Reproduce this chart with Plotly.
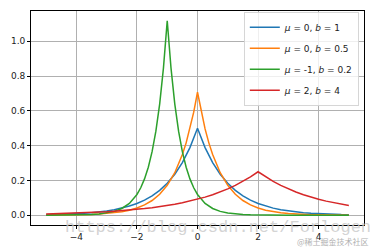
import plotly.graph_objects as go

# x grid shared by three series
x_vals = [-5.0, -4.75, -4.5, -4.25, -4.0, -3.75, -3.5, -3.25, -3.0, -2.75, -2.5, -2.25,
          -2.0, -1.75, -1.5, -1.25, -1.0, -0.75, -0.5, -0.25, 0.0, 0.25, 0.5, 0.75,
          1.0, 1.25, 1.5, 1.75, 2.0, 2.25, 2.5, 2.75, 3.0, 3.25, 3.5, 3.75, 4.0,
          4.25, 4.5, 4.75, 5.0]

y_mu0_b1 = [0.003, 0.004, 0.006, 0.007, 0.009, 0.012, 0.015, 0.019, 0.025, 0.032, 0.041, 0.053,
            0.068, 0.087, 0.112, 0.143, 0.184, 0.236, 0.303, 0.389, 0.500, 0.389, 0.303, 0.236,
            0.184, 0.143, 0.112, 0.087, 0.068, 0.053, 0.041, 0.032, 0.025, 0.019, 0.015, 0.012,
            0.009, 0.007, 0.006, 0.004, 0.003]

x_mu0_b05 = [-5.0, -4.75, -4.5, -4.25, -4.0, -3.75, -3.5, -3.25, -3.0, -2.75, -2.5, -2.25,
             -2.0, -1.75, -1.5, -1.25, -1.0, -0.75, -0.5, -0.375, -0.25, -0.125, 0.0,
             0.125, 0.25, 0.375, 0.5, 0.75, 1.0, 1.25, 1.5, 1.75, 2.0, 2.25, 2.5, 2.75,
             3.0, 3.25, 3.5, 3.75, 4.0, 4.25, 4.5, 4.75, 5.0]
y_mu0_b05 = [0.0006, 0.0009, 0.0012, 0.0017, 0.0025, 0.0035, 0.0050, 0.0071, 0.0102, 0.0145,
             0.0206, 0.0293, 0.0418, 0.0595, 0.0848, 0.1207, 0.1719, 0.2448, 0.3487, 0.4161,
             0.4965, 0.5925, 0.7071, 0.5925, 0.4965, 0.4161, 0.3487, 0.2448, 0.1719, 0.1207,
             0.0848, 0.0595, 0.0418, 0.0293, 0.0206, 0.0145, 0.0102, 0.0071, 0.0050, 0.0035,
             0.0025, 0.0017, 0.0012, 0.0009, 0.0006]

x_mum1_b02 = [-5.0, -4.75, -4.5, -4.25, -4.0, -3.75, -3.5, -3.25, -3.0, -2.75, -2.5, -2.25,
              -2.0, -1.875, -1.75, -1.625, -1.5, -1.375, -1.25, -1.125, -1.0, -0.875, -0.75,
              -0.625, -0.5, -0.375, -0.25, -0.125, 0.0, 0.25, 0.5, 0.75, 1.0, 1.25, 1.5,
              1.75, 2.0, 2.25, 2.5, 2.75, 3.0, 3.5, 4.0, 4.5, 5.0]
y_mum1_b02 = [0.0001, 0.0003, 0.0004, 0.0008, 0.0014, 0.0024, 0.0042, 0.0073, 0.0128, 0.0223,
              0.0391, 0.0683, 0.1195, 0.1580, 0.2090, 0.2764, 0.3655, 0.4833, 0.6390, 0.8455,
              1.1180, 0.8455, 0.6390, 0.4833, 0.3655, 0.2764, 0.2090, 0.1580, 0.1195, 0.0683,
              0.0391, 0.0223, 0.0128, 0.0073, 0.0042, 0.0024, 0.0014, 0.0008, 0.0004, 0.0003,
              0.0001, 0.0001, 0.0000, 0.0000, 0.0000]

y_mu2_b4 = [0.0075, 0.0086, 0.0097, 0.0110, 0.0124, 0.0141, 0.0160, 0.0181, 0.0205, 0.0233,
            0.0263, 0.0299, 0.0338, 0.0383, 0.0434, 0.0492, 0.0558, 0.0632, 0.0716, 0.0812,
            0.0920, 0.1042, 0.1181, 0.1338, 0.1516, 0.1718, 0.1947, 0.2206, 0.2500, 0.2206,
            0.1947, 0.1718, 0.1516, 0.1338, 0.1181, 0.1042, 0.0920, 0.0812, 0.0716, 0.0632,
            0.0558]

names = ["<i>μ</i> = 0, <i>b</i> = 1", "<i>μ</i> = 0, <i>b</i> = 0.5",
         "<i>μ</i> = -1, <i>b</i> = 0.2", "<i>μ</i> = 2, <i>b</i> = 4"]
colors = ["#1f77b4", "#ff7f0e", "#2ca02c", "#d62728"]

x_ticks = [-4, -2, 0, 2, 4]
x_tick_text = ["−4", "−2", "0", "2", "4"]
y_ticks = [0.0, 0.2, 0.4, 0.6, 0.8, 1.0]
y_tick_text = ["0.0", "0.2", "0.4", "0.6", "0.8", "1.0"]

series = [(x_vals, y_mu0_b1), (x_mu0_b05, y_mu0_b05), (x_mum1_b02, y_mum1_b02), (x_vals, y_mu2_b4)]

fig = go.Figure()
for i, ((xs, ys), n, c) in enumerate(zip(series, names, colors)):
    fig.add_trace(go.Scatter(x=xs, y=ys, mode="lines", name=n, legendgroup=f"g{i}",
                             line=dict(color=c, width=1.5)))

axis_common = dict(showgrid=True, gridcolor="#b0b0b0", gridwidth=0.8,
                   showline=True, linecolor="#000000", linewidth=0.8, mirror=True,
                   ticks="outside", ticklen=3, tickwidth=0.8, tickcolor="#000000",
                   zeroline=False, tickfont=dict(family="DejaVu Sans", size=9, color="#222222"))

fig.update_layout(
    width=375, height=252,
    margin=dict(l=31, r=10, t=10, b=24),
    paper_bgcolor="white", plot_bgcolor="white",
    xaxis=dict(range=[-5.5, 5.5], tickvals=x_ticks, ticktext=x_tick_text, **axis_common),
    yaxis=dict(range=[-0.0559, 1.174], tickvals=y_ticks, ticktext=y_tick_text, **axis_common),
    legend=dict(x=0.985, xanchor="right", y=0.995, yanchor="top", tracegroupgap=2,
                bgcolor="rgba(255,255,255,0.8)", bordercolor="#cccccc", borderwidth=0.8,
                font=dict(family="DejaVu Sans", size=9, color="#222222")),
    showlegend=True,
)

fig.add_annotation(text="https://blog.csdn.net/Forlogen", xref="paper", yref="paper",
                   x=(63 - 31) / 334, xanchor="left", y=(228 - 231) / 218, yanchor="middle",
                   showarrow=False,
                   font=dict(family="Liberation Mono", size=17, color="rgba(200,200,200,0.8)"))
fig.add_annotation(text="@稀土掘金技术社区", xref="paper", yref="paper",
                   x=1.0 + 7 / 334, xanchor="right", y=(228 - 245) / 218, yanchor="middle",
                   showarrow=False,
                   font=dict(family="Noto Sans CJK SC", size=8, color="#b0b0b0"))

fig.write_html("out.html")
